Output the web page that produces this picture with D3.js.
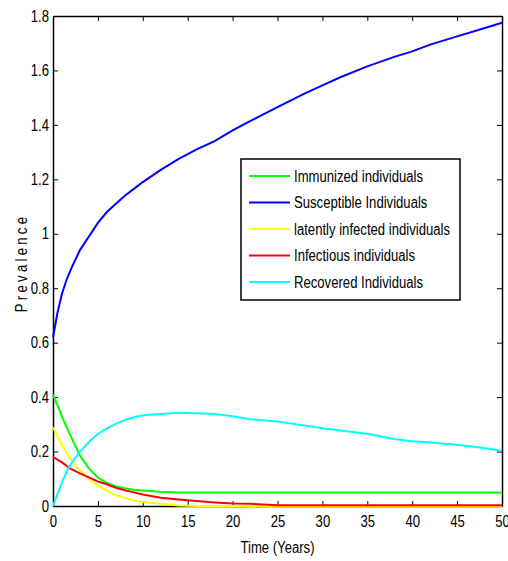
<!DOCTYPE html>
<html>
<head>
<meta charset="utf-8">
<script src="https://cdn.jsdelivr.net/npm/d3@7/dist/d3.min.js"></script>
<style>
    body { margin: 0; background: #fff; }
    text { font-family: "Liberation Sans", Arial, sans-serif; fill: #000; }
    .axis path, .axis line { stroke: #000; }
</style>
</head>
<body>
<div id="chart"></div>
<script>
// time points (years)
var years = [0, 0.5, 1, 1.5, 2, 3, 4, 5, 6, 7, 8, 9, 10, 12, 14, 16, 18, 20, 22, 25, 28, 30, 32, 35, 38, 40, 42, 45, 48, 50];

// series values
var immunized = [0.41, 0.37, 0.33, 0.29, 0.255, 0.185, 0.138, 0.104, 0.085, 0.072, 0.065, 0.06, 0.057, 0.052, 0.05, 0.05, 0.05, 0.05, 0.05, 0.05, 0.05, 0.05, 0.05, 0.05, 0.05, 0.05, 0.05, 0.05, 0.05, 0.05];
var susceptible = [0.62, 0.71, 0.78, 0.83, 0.87, 0.94, 0.99, 1.04, 1.08, 1.11, 1.14, 1.165, 1.19, 1.235, 1.275, 1.31, 1.34, 1.38, 1.415, 1.465, 1.515, 1.545, 1.575, 1.615, 1.65, 1.67, 1.695, 1.725, 1.755, 1.775];
var latent = [0.29, 0.255, 0.225, 0.195, 0.17, 0.13, 0.1, 0.075, 0.055, 0.04, 0.03, 0.02, 0.015, 0.008, 0.002, 0, 0, 0, 0, 0, 0, 0, 0, 0, 0, 0, 0, 0, 0, 0];
var infectious = [0.18, 0.17, 0.16, 0.148, 0.136, 0.12, 0.105, 0.09, 0.08, 0.067, 0.058, 0.05, 0.042, 0.03, 0.024, 0.018, 0.013, 0.009, 0.008, 0.003, 0.003, 0.003, 0.003, 0.003, 0.003, 0.003, 0.003, 0.003, 0.003, 0.003];
var recovered = [0, 0.045, 0.088, 0.125, 0.155, 0.2, 0.235, 0.265, 0.285, 0.302, 0.316, 0.326, 0.333, 0.338, 0.343, 0.341, 0.338, 0.33, 0.319, 0.31, 0.296, 0.286, 0.277, 0.265, 0.246, 0.238, 0.233, 0.225, 0.213, 0.203];

var seriesNames = ["Immunized individuals", "Susceptible Individuals", "latently infected individuals", "Infectious individuals", "Recovered Individuals"];
var seriesColors = ["#00ff00", "#0000ff", "#ffff00", "#ff0000", "#00ffff"];
var seriesValues = [immunized, susceptible, latent, infectious, recovered];

var xTicks = [0, 5, 10, 15, 20, 25, 30, 35, 40, 45, 50];
var yTicks = [0, 0.2, 0.4, 0.6, 0.8, 1, 1.2, 1.4, 1.6, 1.8];

var margin = {top: 16, right: 6, bottom: 55, left: 53};
var width = 508 - margin.left - margin.right;
var height = 561 - margin.top - margin.bottom;
var squeeze = 0.82; // no narrow font installed, so squeeze text horizontally

var svg = d3.select("#chart").append("svg")
    .attr("width", width + margin.left + margin.right)
    .attr("height", height + margin.top + margin.bottom)
    .append("g")
    .attr("transform", "translate(" + margin.left + "," + margin.top + ")");

var x = d3.scaleLinear().domain([0, 50]).range([0, width]);
var y = d3.scaleLinear().domain([0, 1.8]).range([height, 0]);

var fmt = function (d) { return d3.format("")(+d.toFixed(1)); };

// axes, ticks pointing inward like matlab
svg.append("g")
    .attr("class", "axis")
    .attr("transform", "translate(0," + height + ")")
    .call(d3.axisBottom(x).tickValues(xTicks).tickSizeInner(-5).tickSizeOuter(0).tickPadding(10).tickFormat(fmt))
    .call(function (g) {
        g.selectAll("text").attr("font-size", 16).attr("transform", "scale(" + squeeze + ",1)");
    });

svg.append("g")
    .attr("class", "axis")
    .call(d3.axisLeft(y).tickValues(yTicks).tickSizeInner(-5).tickSizeOuter(0).tickFormat(fmt))
    .call(function (g) {
        g.selectAll("text").attr("font-size", 16)
            .attr("x", -4 / squeeze)
            .attr("transform", "scale(" + squeeze + ",1)");
    });

svg.append("g")
    .attr("class", "axis")
    .call(d3.axisTop(x).tickValues(xTicks).tickSizeInner(-5).tickSizeOuter(0).tickFormat(""));

svg.append("g")
    .attr("class", "axis")
    .attr("transform", "translate(" + width + ",0)")
    .call(d3.axisRight(y).tickValues(yTicks).tickSizeInner(-5).tickSizeOuter(0).tickFormat(""));

svg.selectAll(".axis path").attr("stroke-width", 1.5);

// lines
var line = d3.line()
    .x(function (d) { return x(d[0]); })
    .y(function (d) { return y(d[1]); });

seriesValues.forEach(function (vals, i) {
    svg.append("path")
        .datum(years.map(function (t, j) { return [t, vals[j]]; }))
        .attr("fill", "none")
        .attr("stroke", seriesColors[i])
        .attr("stroke-width", 2)
        .attr("d", line);
});

// axis labels
svg.append("text")
    .attr("transform", "translate(" + x(25) + "," + (height + 47) + ") scale(" + squeeze + ",1)")
    .attr("text-anchor", "middle")
    .attr("font-size", 16)
    .text("Time (Years)");

svg.append("text")
    .attr("transform", "translate(" + (27 - margin.left) + "," + (y(0.9) + 2) + ") rotate(-90) scale(" + squeeze + ",1)")
    .attr("text-anchor", "middle")
    .attr("font-size", 16)
    .attr("letter-spacing", 4)
    .text("Prevalence");

// legend
var legend = svg.append("g")
    .attr("transform", "translate(" + (241 - margin.left) + "," + (159 - margin.top) + ")");

legend.append("rect")
    .attr("width", 219)
    .attr("height", 141)
    .attr("fill", "#fff")
    .attr("stroke", "#000")
    .attr("stroke-width", 1.5);

seriesNames.forEach(function (name, i) {
    var ly = 17 + i * 26.5;
    legend.append("line")
        .attr("x1", 8).attr("x2", 49)
        .attr("y1", ly).attr("y2", ly)
        .attr("stroke", seriesColors[i])
        .attr("stroke-width", 2);
    legend.append("text")
        .attr("transform", "translate(53," + ly + ") scale(" + squeeze + ",1)")
        .attr("dy", "0.35em")
        .attr("font-size", 16)
        .text(name);
});
</script>
</body>
</html>
